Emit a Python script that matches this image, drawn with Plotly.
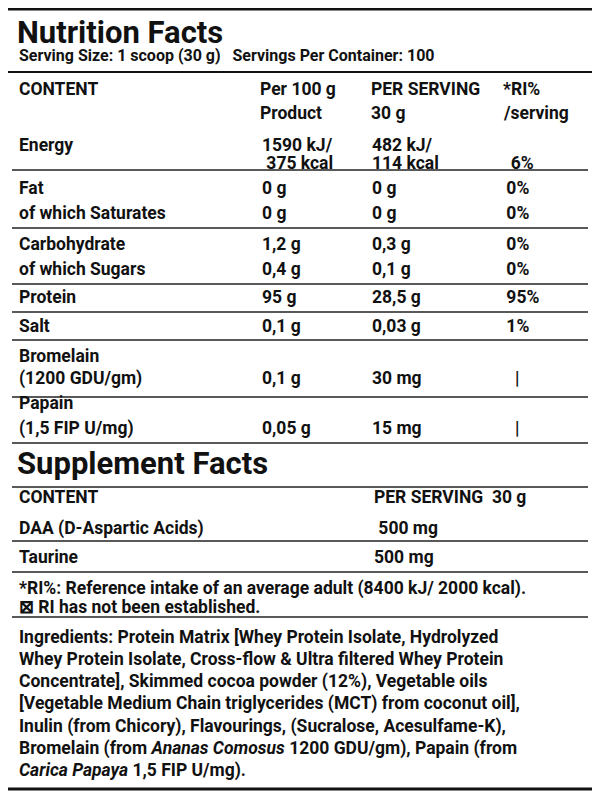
import plotly.graph_objects as go

# nutrition table rows: label, per 100 g, per serving, RI%
row_labels = ["Energy", "", "Fat", "of which Saturates", "Carbohydrate", "of which Sugars",
              "Protein", "Salt", "Bromelain", "(1200 GDU/gm)", "Papain", "(1,5 FIP U/mg)"]
per_100g = ["1590 kJ/", " 375 kcal", "0 g", "0 g", "1,2 g", "0,4 g", "95 g", "0,1 g",
            "", "0,1 g", "", "0,05 g"]
per_serving = ["482 kJ/", "114 kcal", "0 g", "0 g", "0,3 g", "0,1 g", "28,5 g", "0,03 g",
               "", "30 mg", "", "15 mg"]
ri_pct = ["", "  6%", " 0%", " 0%", " 0%", " 0%", " 95%", " 1%", "", "   |", "", "   |"]
row_y = [145, 163, 188, 213, 244, 269, 297, 326, 356, 378, 403, 428]

supp_labels = ["DAA (D-Aspartic Acids)", "Taurine"]
supp_values = [" 500 mg", "500 mg"]
supp_y = [528, 557]

rule_y = [170, 228, 284, 312, 340, 397, 443, 487, 541, 572, 617]

footnotes = ["*RI%: Reference intake of an average adult (8400 kJ/ 2000 kcal).",
             "⊠ RI has not been established."]
ingredients = [
    "Ingredients: Protein Matrix [Whey Protein Isolate, Hydrolyzed",
    "Whey Protein Isolate, Cross-flow & Ultra filtered Whey Protein",
    "Concentrate], Skimmed cocoa powder (12%), Vegetable oils",
    "[Vegetable Medium Chain triglycerides (MCT) from coconut oil],",
    "Inulin (from Chicory), Flavourings, (Sucralose, Acesulfame-K),",
    "Bromelain (from <i>Ananas Comosus</i> 1200 GDU/gm), Papain (from",
    "<i>Carica Papaya</i> 1,5 FIP U/mg).",
]

FONT = "Roboto"
BODY = 17.5
fig = go.Figure()
ann = []


def txt(x, y, s, size=BODY):
    ann.append(dict(x=x, y=y, text="<b>" + s + "</b>" if s else "", showarrow=False,
                    xanchor="left", yanchor="middle", font=dict(family=FONT, size=size, color="#111")))


txt(15, 32, "Nutrition Facts", 31)
txt(17, 55, "Serving Size: 1 scoop (30 g)   Servings Per Container: 100", 16)
txt(17, 89, "CONTENT")
txt(258, 89, "Per 100 g")
txt(258, 113, "Product")
txt(369, 89, "PER SERVING")
txt(369, 113, "30 g")
txt(501, 89, "*RI%")
txt(501, 113, "/serving")
for lab, a, b, c, y in zip(row_labels, per_100g, per_serving, ri_pct, row_y):
    txt(17, y, lab)
    txt(260, y, a)
    txt(370, y, b)
    txt(500, y, c)

txt(15, 463, "Supplement Facts", 31)
txt(17, 497, "CONTENT")
txt(372, 497, "PER SERVING  30 g")
for lab, v, y in zip(supp_labels, supp_values, supp_y):
    txt(17, y, lab)
    txt(372, y, v)

for i, s in enumerate(footnotes):
    txt(17, 588 + i * 19, s)
for i, s in enumerate(ingredients):
    txt(17, 637 + i * 22.3, s)

shapes = [dict(type="rect", x0=6, x1=594, y0=9, y1=789, line=dict(color="#111", width=3))]
shapes.append(dict(type="line", x0=6, x1=594, y0=72, y1=72, line=dict(color="#111", width=2)))
for y in rule_y:
    shapes.append(dict(type="line", x0=12, x1=588, y0=y, y1=y, line=dict(color="#222", width=1.5)))

# page body has an 8px margin, so the figure is 584x784 mapped to page pixels 8..592 / 8..792
fig.update_layout(
    width=584, height=784, margin=dict(l=0, r=0, t=0, b=0),
    paper_bgcolor="white", plot_bgcolor="white",
    xaxis=dict(range=[8, 592], visible=False, fixedrange=True),
    yaxis=dict(range=[792, 8], visible=False, fixedrange=True),
    annotations=ann, shapes=shapes, showlegend=False,
)
fig.write_html("out.html")
